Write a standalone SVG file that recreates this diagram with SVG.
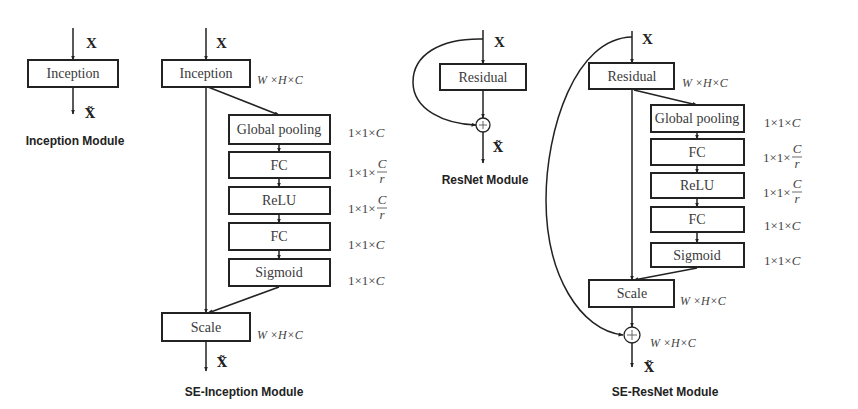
<svg xmlns="http://www.w3.org/2000/svg" width="858" height="409" viewBox="0 0 858 409">
<defs>
<marker id="ah" viewBox="0 0 10 10" refX="9" refY="5" markerWidth="5" markerHeight="5" orient="auto" markerUnits="userSpaceOnUse">
<path d="M0,1 L10,5 L0,9 z" fill="#222"/>
</marker>
</defs>
<style>
.box{fill:#fff;stroke:#222;stroke-width:2}
.lbl{font-family:"Liberation Serif",serif;font-size:14px;fill:#3a3a3a;text-anchor:middle}
.dim{font-family:"Liberation Serif",serif;font-size:13px;fill:#444}
.wh{font-family:"Liberation Serif",serif;font-size:12px;fill:#444;font-style:italic}
.it{font-style:italic}
.x{font-family:"Liberation Serif",serif;font-size:15px;font-weight:bold;fill:#222}
.xt{font-family:"DejaVu Serif",serif;font-size:13px;font-weight:bold;fill:#222}
.title{font-family:"Liberation Sans",sans-serif;font-size:12px;font-weight:bold;fill:#222;text-anchor:middle}
.c{fill:none;stroke:#222;stroke-width:1.5}
.fb{stroke:#444;stroke-width:0.8}
</style>
<rect width="858" height="409" fill="#fff"/>

<g id="connectors">
<!-- Inception module -->
<line class="c" x1="73" y1="28" x2="73" y2="60" marker-end="url(#ah)"/>
<line class="c" x1="73" y1="88" x2="73" y2="114" marker-end="url(#ah)"/>
<!-- SE-Inception -->
<line class="c" x1="206" y1="28" x2="206" y2="60" marker-end="url(#ah)"/>
<line class="c" x1="206" y1="87" x2="206" y2="313" marker-end="url(#ah)"/>
<line class="c" x1="208" y1="87" x2="279" y2="115" marker-end="url(#ah)"/>
<line class="c" x1="279" y1="145" x2="279" y2="152" marker-end="url(#ah)"/>
<line class="c" x1="279" y1="179" x2="279" y2="187" marker-end="url(#ah)"/>
<line class="c" x1="279" y1="215" x2="279" y2="223" marker-end="url(#ah)"/>
<line class="c" x1="279" y1="251" x2="279" y2="259" marker-end="url(#ah)"/>
<line class="c" x1="279" y1="287" x2="208" y2="313" marker-end="url(#ah)"/>
<line class="c" x1="206" y1="342" x2="206" y2="371" marker-end="url(#ah)"/>
<!-- ResNet -->
<line class="c" x1="483" y1="30" x2="483" y2="64" marker-end="url(#ah)"/>
<line class="c" x1="483" y1="91" x2="483" y2="118" marker-end="url(#ah)"/>
<path class="c" d="M483,39 C440,38 413,55 413,82 C413,110 445,124 476,125" marker-end="url(#ah)"/>
<line class="c" x1="483" y1="132" x2="483" y2="163" marker-end="url(#ah)"/>
<!-- SE-ResNet -->
<line class="c" x1="632" y1="31" x2="632" y2="63" marker-end="url(#ah)"/>
<line class="c" x1="632" y1="90" x2="632" y2="280" marker-end="url(#ah)"/>
<line class="c" x1="634" y1="90" x2="697" y2="105" marker-end="url(#ah)"/>
<line class="c" x1="697" y1="133" x2="697" y2="139" marker-end="url(#ah)"/>
<line class="c" x1="697" y1="166" x2="697" y2="173" marker-end="url(#ah)"/>
<line class="c" x1="697" y1="199" x2="697" y2="207" marker-end="url(#ah)"/>
<line class="c" x1="697" y1="233" x2="697" y2="243" marker-end="url(#ah)"/>
<line class="c" x1="697" y1="268" x2="634" y2="280" marker-end="url(#ah)"/>
<line class="c" x1="632" y1="308" x2="632" y2="327" marker-end="url(#ah)"/>
<path class="c" d="M632,37 C575,38 546,130 546,200 C546,275 580,330 623,335" marker-end="url(#ah)"/>
<line class="c" x1="632" y1="343" x2="632" y2="367" marker-end="url(#ah)"/>
</g>

<!-- Inception module -->
<g id="inc-x"><text class="x" x="86" y="48">X</text></g>
<g id="inc-box"><rect class="box" x="28" y="60" width="90" height="27"/><text class="lbl" x="73" y="78">Inception</text></g>
<g id="inc-out"><text class="xt" x="85" y="118">X̃</text></g>
<g id="inc-title"><text class="title" x="75" y="145">Inception Module</text></g>

<!-- SE-Inception -->
<g id="sei-x"><text class="x" x="216" y="48">X</text></g>
<g id="sei-inception"><rect class="box" x="162" y="60" width="88" height="27"/><text class="lbl" x="206" y="78">Inception</text>
<text class="wh" x="257" y="84">W ×H×C</text></g>
<g id="sei-gp"><rect class="box" x="229" y="115" width="101" height="29"/><text class="lbl" x="279" y="134">Global pooling</text>
<text class="dim" x="348" y="137">1×1×<tspan class="it">C</tspan></text></g>
<g id="sei-fc1"><rect class="box" x="229" y="152" width="101" height="26"/><text class="lbl" x="279" y="170">FC</text>
<text class="dim" x="348" y="177">1×1×</text><text class="dim it" x="382" y="168" text-anchor="middle">C</text><line class="fb" x1="377" y1="172" x2="387" y2="172"/><text class="dim it" x="382" y="183" text-anchor="middle">r</text></g>
<g id="sei-relu"><rect class="box" x="229" y="187" width="101" height="27"/><text class="lbl" x="279" y="205">ReLU</text>
<text class="dim" x="348" y="213">1×1×</text><text class="dim it" x="382" y="204" text-anchor="middle">C</text><line class="fb" x1="377" y1="208" x2="387" y2="208"/><text class="dim it" x="382" y="219" text-anchor="middle">r</text></g>
<g id="sei-fc2"><rect class="box" x="229" y="223" width="101" height="27"/><text class="lbl" x="279" y="241">FC</text>
<text class="dim" x="348" y="249">1×1×<tspan class="it">C</tspan></text></g>
<g id="sei-sig"><rect class="box" x="229" y="259" width="101" height="27"/><text class="lbl" x="279" y="277">Sigmoid</text>
<text class="dim" x="348" y="285">1×1×<tspan class="it">C</tspan></text></g>
<g id="sei-scale"><rect class="box" x="162" y="313" width="88" height="28"/><text class="lbl" x="206" y="332">Scale</text>
<text class="wh" x="257" y="339">W ×H×C</text></g>
<g id="sei-out"><text class="xt" x="217" y="367">X̃</text></g>
<g id="sei-title"><text class="title" x="244" y="396">SE-Inception Module</text></g>

<!-- ResNet -->
<g id="res-x"><text class="x" x="494" y="47">X</text></g>
<g id="res-box"><rect class="box" x="440" y="64" width="86" height="26"/><text class="lbl" x="483" y="82">Residual</text></g>
<g id="res-plus"><circle cx="483" cy="125" r="7" fill="#fff" stroke="#222" stroke-width="1.3"/><path d="M479,125 H487 M483,121 V129" stroke="#555" stroke-width="0.9"/></g>
<g id="res-out"><text class="xt" x="493" y="152">X̃</text></g>
<g id="res-title"><text class="title" x="485" y="184">ResNet Module</text></g>

<!-- SE-ResNet -->
<g id="ser-x"><text class="x" x="642" y="44">X</text></g>
<g id="ser-residual"><rect class="box" x="589" y="63" width="85" height="26"/><text class="lbl" x="632" y="81">Residual</text>
<text class="wh" x="682" y="87">W ×H×C</text></g>
<g id="ser-gp"><rect class="box" x="651" y="105" width="93" height="27"/><text class="lbl" x="697" y="123">Global pooling</text>
<text class="dim" x="764" y="127">1×1×<tspan class="it">C</tspan></text></g>
<g id="ser-fc1"><rect class="box" x="651" y="139" width="93" height="26"/><text class="lbl" x="697" y="157">FC</text>
<text class="dim" x="763" y="162">1×1×</text><text class="dim it" x="797" y="153" text-anchor="middle">C</text><line class="fb" x1="792" y1="157" x2="802" y2="157"/><text class="dim it" x="797" y="168" text-anchor="middle">r</text></g>
<g id="ser-relu"><rect class="box" x="651" y="173" width="93" height="25"/><text class="lbl" x="697" y="190">ReLU</text>
<text class="dim" x="763" y="197">1×1×</text><text class="dim it" x="797" y="188" text-anchor="middle">C</text><line class="fb" x1="792" y1="192" x2="802" y2="192"/><text class="dim it" x="797" y="203" text-anchor="middle">r</text></g>
<g id="ser-fc2"><rect class="box" x="651" y="207" width="93" height="25"/><text class="lbl" x="697" y="224">FC</text>
<text class="dim" x="764" y="230">1×1×<tspan class="it">C</tspan></text></g>
<g id="ser-sig"><rect class="box" x="651" y="243" width="93" height="24"/><text class="lbl" x="697" y="260">Sigmoid</text>
<text class="dim" x="764" y="265">1×1×<tspan class="it">C</tspan></text></g>
<g id="ser-scale"><rect class="box" x="589" y="280" width="85" height="27"/><text class="lbl" x="632" y="298">Scale</text>
<text class="wh" x="680" y="305">W ×H×C</text></g>
<g id="ser-plus"><circle cx="632" cy="335" r="8" fill="#fff" stroke="#222" stroke-width="1.3"/><path d="M627,335 H637 M632,330 V340" stroke="#555" stroke-width="0.9"/>
<text class="wh" x="650" y="347">W ×H×C</text></g>
<g id="ser-out"><text class="xt" x="644" y="372">X̃</text></g>
<g id="ser-title"><text class="title" x="665" y="396">SE-ResNet Module</text></g>
</svg>
